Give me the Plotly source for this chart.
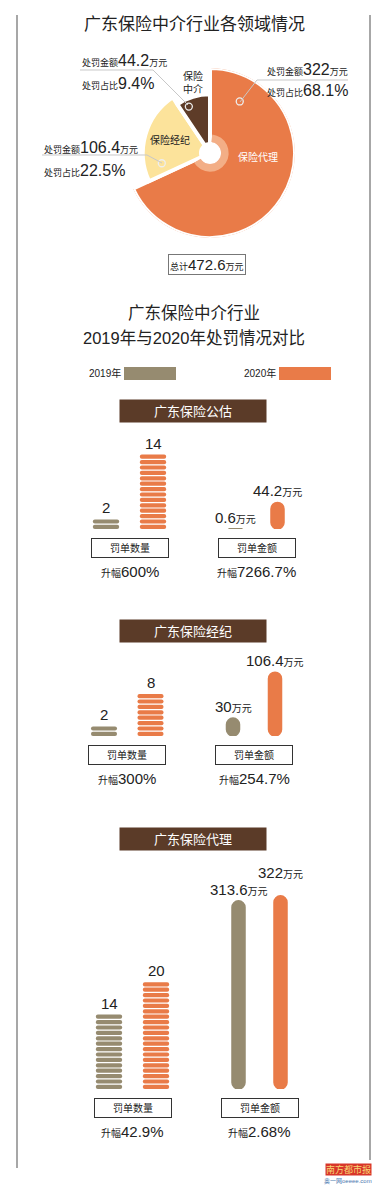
import plotly.graph_objects as go

# ---------------- data ----------------
segments = ["保险代理", "保险经纪", "保险中介"]
seg_amount = [322, 106.4, 44.2]
seg_share = [68.1, 22.5, 9.4]
total_amount = 472.6

sections = ["广东保险公估", "广东保险经纪", "广东保险代理"]
years = ["2019年", "2020年"]
count_2019 = [2, 2, 14]
count_2020 = [14, 8, 20]
amount_2019 = [0.6, 30, 313.6]
amount_2020 = [44.2, 106.4, 322]
count_growth = ["600%", "300%", "42.9%"]
amount_growth = ["7266.7%", "254.7%", "2.68%"]

# ---------------- style ----------------
W, H = 387, 1186
def fx(x): return x / W
def fy(y): return 1 - y / H

FONT = "Liberation Sans, Noto Sans CJK SC, sans-serif"
TXT = "#222222"
GRAY = "#968B70"
ORANGE = "#E97B48"
YELLOW = "#FCE39B"
BROWN = "#5E3C28"
HEADER = "#5B3B28"
PEACH = "#F3AE86"
seg_colors = [ORANGE, YELLOW, BROWN]
seg_radii = [1.0, 0.79, 0.69]

fig = go.Figure()
annotations = []
shapes = []

# ---------------- pie (polar bars) ----------------
spans = [s * 3.6 for s in seg_share]
centers, acc = [], 0
for sp in spans:
    centers.append(acc + sp / 2)
    acc += sp
fig.add_trace(go.Barpolar(r=seg_radii, theta=centers, width=spans,
                          marker=dict(color=seg_colors, line=dict(color="white", width=4)),
                          hoverinfo="skip"))
fig.add_trace(go.Barpolar(r=[0.09], base=[0.13], theta=[centers[0]], width=[spans[0] - 14],
                          marker=dict(color=PEACH, line=dict(width=0)),
                          hoverinfo="skip"))
fig.add_trace(go.Barpolar(r=[0.13], base=[0], theta=[180], width=[360],
                          marker=dict(color="white", line=dict(color="white", width=0)),
                          hoverinfo="skip"))
fig.add_trace(go.Scatterpolar(r=[0.70, 0.58, 0.60], theta=[30, 258, 335.5], mode="markers",
                              marker=dict(size=7, color="rgba(0,0,0,0)",
                                          line=dict(color="#eeeeee", width=1.3)),
                              hoverinfo="skip"))

PC = (210, 153)
PR = 85
polar = dict(domain=dict(x=[fx(PC[0] - PR), fx(PC[0] + PR)], y=[fy(PC[1] + PR), fy(PC[1] - PR)]),
             radialaxis=dict(visible=False, range=[0, 1]),
             angularaxis=dict(visible=False, rotation=90, direction="clockwise"),
             bgcolor="rgba(0,0,0,0)")

def small(t, s=9):
    return f"<span style='font-size:{s}px'>{t}</span>"

def ann(text, x, y, size=12, color=TXT, xanchor="center", yanchor="middle", **kw):
    annotations.append(dict(text=text, x=fx(x), y=fy(y), xref="paper", yref="paper",
                            showarrow=False, xanchor=xanchor, yanchor=yanchor,
                            font=dict(size=size, color=color, family=FONT), **kw))

# titles
ann("广东保险中介行业各领域情况", 194, 25, size=17)
# slice names
ann(segments[0], 258, 157, size=10, color="white")
ann(segments[1], 170, 140, size=10)
ann("保险<br>中介", 193, 83, size=10)

# value labels with leader lines
lab_pos = [(265, 70, 91), (42, 147, 170), (80, 60, 84)]
for i in range(3):
    x, y1, y2 = lab_pos[i]
    ann(small("处罚金额") + f"{seg_amount[i]:g}" + small("万元"), x, y1, size=16, xanchor="left")
    ann(small("处罚占比") + f"{seg_share[i]:g}%", x, y2, size=16, xanchor="left")

def path(pts):
    return "M " + " L ".join(f"{fx(a):.5f},{fy(b):.5f}" for a, b in pts)

LINE = "#c8c8c8"
for pts in [[(240, 102), (257, 80), (348, 80)],
            [(162, 163), (147, 155), (42, 155)],
            [(188, 105), (153, 70), (80, 70)]]:
    shapes.append(dict(type="path", path=path(pts), xref="paper", yref="paper",
                       line=dict(color=LINE, width=1)))

# total box
ann(small("总计") + f"{total_amount:g}" + small("万元"), 207, 265, size=15,
    bordercolor="#777777", borderwidth=1, borderpad=1, bgcolor="white")

# second title + legend
ann("广东保险中介行业", 194, 313, size=16.5)
ann("2019年与2020年处罚情况对比", 194, 338, size=16.5)
ann(years[0], 87, 373, size=10, xanchor="left")
ann(years[1], 242, 373, size=10, xanchor="left")
shapes.append(dict(type="rect", xref="paper", yref="paper", x0=fx(124), x1=fx(176),
                   y0=fy(380), y1=fy(367), fillcolor=GRAY, line=dict(width=0)))
shapes.append(dict(type="rect", xref="paper", yref="paper", x0=fx(279), x1=fx(331),
                   y0=fy(380), y1=fy(367), fillcolor=ORANGE, line=dict(width=0)))

# frame
shapes.append(dict(type="line", xref="paper", yref="paper", x0=fx(17), x1=fx(17),
                   y0=fy(15), y1=fy(1168), line=dict(color="#8a8a8a", width=1.5)))
shapes.append(dict(type="line", xref="paper", yref="paper", x0=fx(370), x1=fx(370),
                   y0=fy(15), y1=fy(1160), line=dict(color="#8a8a8a", width=1.5)))

# ---------------- sections ----------------
header_y = [411, 631, 839]
baselines = [529, 736, 1089]
count_cx = [(106, 153), (104, 150.5), (109, 156)]
amount_cx = [(235.5, 277.5), (233, 275), (238.5, 280.5)]
COUNT_PX, AMOUNT_PX = 5.4, 0.6
COUNT_H, AMOUNT_H = 120, 200
COIN = 0.78
extra_shift = {(2, 1): 12}

layout_axes = {}
for s in range(3):
    ann(sections[s], 193, header_y[s], size=13, color="white", bgcolor=HEADER,
        width=144, height=20, borderpad=1)
    B = baselines[s]
    kc, ka = 2 * s + 1, 2 * s + 2
    for k, cx, ph, hh in [(kc, count_cx[s], COUNT_PX, COUNT_H), (ka, amount_cx[s], AMOUNT_PX, AMOUNT_H)]:
        d = (cx[1] - cx[0]) / 2
        layout_axes[f"xaxis{k}"] = dict(domain=[fx(cx[0] - d), fx(cx[1] + d)], range=[-0.5, 1.5],
                                        visible=False, type="category", fixedrange=True)
        layout_axes[f"yaxis{k}"] = dict(domain=[fy(B), fy(B - hh)], range=[0, hh / ph],
                                        visible=False, fixedrange=True)
    # coins (one rounded bar per penalty notice)
    for j, (cnt, col) in enumerate([(count_2019[s], GRAY), (count_2020[s], ORANGE)]):
        fig.add_trace(go.Bar(x=[years[j]] * cnt, y=[COIN] * cnt, base=list(range(cnt)),
                             width=0.56, marker=dict(color=col, cornerradius=2, line=dict(width=0)),
                             xaxis=f"x{kc}", yaxis=f"y{kc}", hoverinfo="skip"))
        annotations.append(dict(text=str(cnt), x=years[j], y=cnt - (1 - COIN), xref=f"x{kc}", yref=f"y{kc}",
                                showarrow=False, yanchor="bottom", yshift=1,
                                font=dict(size=15, color=TXT, family=FONT)))
    # amounts (capsules)
    vals = [amount_2019[s], amount_2020[s]]
    fig.add_trace(go.Bar(x=years, y=vals, base=[0, 0], width=0.31,
                         marker=dict(color=[GRAY, ORANGE], cornerradius=7,
                                     line=dict(color=[GRAY, ORANGE], width=1.5)),
                         xaxis=f"x{ka}", yaxis=f"y{ka}", hoverinfo="skip"))
    for j in range(2):
        annotations.append(dict(text=f"{vals[j]:g}" + small("万元", 10), x=years[j], y=vals[j],
                                xref=f"x{ka}", yref=f"y{ka}", showarrow=False, yanchor="bottom",
                                yshift=1 + extra_shift.get((s, j), 0),
                                font=dict(size=15, color=TXT, family=FONT)))
    # boxes and growth
    for k, lab, g in [(kc, "罚单数量", count_growth[s]), (ka, "罚单金额", amount_growth[s])]:
        annotations.append(dict(text=lab, x=0.5, y=0, xref=f"x{k}", yref=f"y{k}", showarrow=False,
                                yanchor="middle", yshift=-18.5, width=74, height=16, borderpad=1,
                                bordercolor="#333333", borderwidth=1, bgcolor="white",
                                font=dict(size=10, color=TXT, family=FONT)))
        annotations.append(dict(text=small("升幅", 10) + g, x=0.5, y=0, xref=f"x{k}", yref=f"y{k}",
                                showarrow=False, yanchor="middle", yshift=-42,
                                font=dict(size=15, color=TXT, family=FONT)))

# watermark
ann("南方都市报", 348.5, 1169, size=9, color="#F7D774", bgcolor="#D8362A", borderpad=0)
ann("奥一网oeeee.com", 348, 1181, size=6, color="#4a78b0")

fig.update_layout(width=W, height=H, margin=dict(l=0, r=0, t=0, b=0),
                  paper_bgcolor="white", plot_bgcolor="rgba(0,0,0,0)",
                  showlegend=False, barmode="overlay", polar=polar,
                  annotations=annotations, shapes=shapes, font=dict(family=FONT),
                  **layout_axes)
fig.write_html("out.html")
